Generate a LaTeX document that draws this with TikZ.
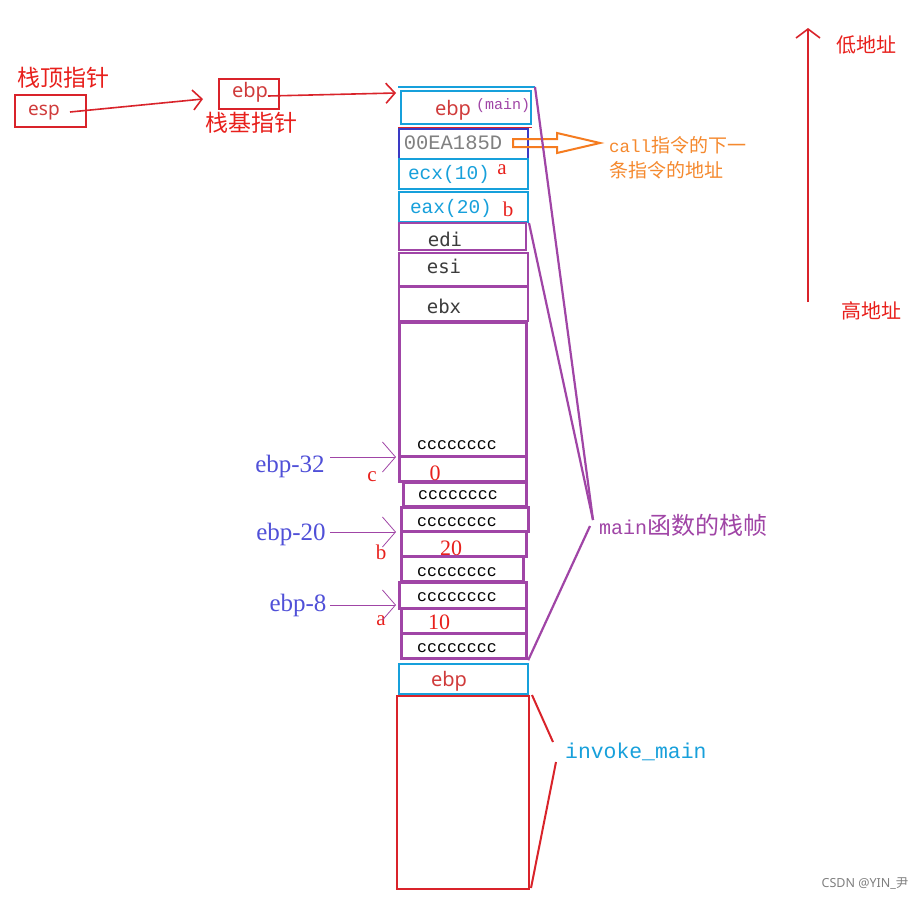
\documentclass[tikz,border=0pt]{standalone}
\usepackage{fontspec}
\setmainfont{Liberation Serif}
\setsansfont{Noto Sans}
\setmonofont{Liberation Mono}
\newfontfamily\cjk{Noto Sans CJK SC}
\newfontfamily\dmono{DejaVu Sans Mono}
\usetikzlibrary{arrows.meta}
\definecolor{myred}{HTML}{D9232A}
\definecolor{txtred}{HTML}{E8201C}
\definecolor{ebpred}{HTML}{D03B3B}
\definecolor{mypurple}{HTML}{A045A6}
\definecolor{mycyan}{HTML}{17A0DB}
\definecolor{mydblue}{HTML}{3A3AC4}
\definecolor{myblue}{HTML}{5050D8}
\definecolor{myorange}{HTML}{F57C20}
\definecolor{txtorange}{HTML}{F5892E}
\definecolor{darktxt}{HTML}{3C3C3C}
\tikzset{
  box/.style={rectangle, draw, inner sep=0pt, anchor=north west},
  redbox/.style={box, draw=myred, line width=2pt},
  cybox/.style={box, draw=mycyan, line width=2pt},
  pbox/.style={box, draw=mypurple, line width=2pt},
  pthick/.style={box, draw=mypurple, line width=3.2pt},
  cjklbl/.style={font=\cjk\fontsize{23}{23}\selectfont, text=txtred, inner sep=0pt},
  regtxt/.style={font=\sffamily\fontsize{19}{19}\selectfont, inner sep=0pt, anchor=base},
  monotxt/.style={font=\ttfamily\fontsize{19.5}{19.5}\selectfont, inner sep=0pt},
  ctxt/.style={font=\ttfamily\fontsize{16.6}{16.6}\selectfont, inner sep=0pt, text=black},
  dtxt/.style={font=\dmono\fontsize{19}{19}\selectfont, inner sep=0pt, text=darktxt},
  numtxt/.style={font=\rmfamily\fontsize{22}{22}\selectfont, text=txtred, inner sep=0pt},
  lettxt/.style={font=\rmfamily\fontsize{21}{21}\selectfont, text=txtred, inner sep=0pt},
  offtxt/.style={font=\rmfamily\fontsize{25}{25}\selectfont, text=myblue, inner sep=0pt},
  redarrow/.style={draw=myred, line width=1.6pt, -{Straight Barb[length=9pt,width=20pt,line width=1.6pt]}},
  parrow/.style={draw=mypurple, line width=0.8pt, -{Straight Barb[length=13pt,width=30pt,line width=0.8pt]}},
  plink/.style={draw=mypurple, line width=2.2pt},
  rlink/.style={draw=myred, line width=2pt},
}
\begin{document}
\begin{tikzpicture}[x=1pt,y=-1pt]
\useasboundingbox[fill=white] (0,0) rectangle (923,900);

% pointers
\node[cjklbl] (sptxt) at (63,78) {栈顶指针};
\node[redbox, minimum width=71pt, minimum height=32pt] (esp) at (14,94) {};
\node[regtxt, text=ebpred] (esptxt) at (44,115) {esp};
\node[redbox, minimum width=60pt, minimum height=30pt] (ebp) at (218,78) {};
\node[regtxt, text=ebpred, font=\sffamily\fontsize{20}{20}\selectfont] (ebptxt) at (250,97) {ebp};
\node[cjklbl] (bptxt) at (251,123) {栈基指针};
\coordinate (espend) at (70,112);
\coordinate (espto) at (203,99);
\draw[redarrow] (espend) -- (espto);
\coordinate (ebpend) at (268,96);
\coordinate (ebpto) at (396,93);
\draw[redarrow] (ebpend) -- (ebpto);

% top of stack
\coordinate (topl) at (398,87);
\coordinate (topr) at (535,87);
\draw[mycyan, line width=2pt] (topl) -- (topr);
\node[cybox, minimum width=130pt, minimum height=33pt] (bmain) at (400,90) {};
\node[regtxt, text=ebpred, font=\sffamily\fontsize{20}{20}\selectfont] (bmaint) at (453,115) {ebp};
\node[font=\ttfamily\fontsize{15}{15}\selectfont, text=mypurple, inner sep=0pt] (bmainm) at (503,106) {(main)};
\coordinate (rl1) at (398,127);
\coordinate (rl2) at (532,127);
\draw[myred, line width=1pt] (rl1) -- (rl2);
\node[box, draw=mydblue, line width=2pt, minimum width=129pt, minimum height=30pt] (ret) at (398,128) {};
\node[monotxt, text=gray, font=\ttfamily\fontsize{20.5}{20.5}\selectfont] (rett) at (453,143) {00EA185D};
% hollow orange arrow
\draw[myorange, line width=2pt, line join=miter] (513,139) -- (557,139) -- (557,133) -- (600,143) -- (557,153) -- (557,147) -- (513,147) -- cycle;
\node[font=\ttfamily\fontsize{17.5}{17.5}\selectfont, text=txtorange, inner sep=0pt, anchor=west] (callt) at (609,145) {call{\cjk\fontsize{19}{19}\selectfont 指令的下一}};
\node[font=\cjk\fontsize{19}{19}\selectfont, text=txtorange, inner sep=0pt, anchor=west] (callt2) at (609,170) {条指令的地址};

\node[cybox, minimum width=129pt, minimum height=30pt] (ecx) at (398,158) {};
\node[monotxt, text=mycyan] (ecxt) at (449,174) {ecx(10)};
\node[lettxt] (ecxa) at (502,170) {a};
\node[cybox, minimum width=129pt, minimum height=30pt] (eax) at (398,191) {};
\node[monotxt, text=mycyan] (eaxt) at (451,208) {eax(20)};
\node[lettxt] (eaxb) at (508,209) {b};

\node[pbox, minimum width=127pt, minimum height=27pt] (edi) at (398,222) {};
\node[dtxt] (edit) at (445,239) {edi};
\node[pbox, minimum width=129pt, minimum height=33pt] (esi) at (398,252) {};
\node[dtxt] (esit) at (444,266) {esi};
\node[pbox, minimum width=129pt, minimum height=34pt] (ebx) at (398,286) {};
\node[dtxt] (ebxt) at (444,306) {ebx};

% locals
\node[pthick, minimum width=127pt, minimum height=134pt] (big) at (398,321) {};
\node[ctxt] (bigt) at (457,445) {cccccccc};
\node[pthick, minimum width=127pt, minimum height=25pt] (c0) at (398,455) {};
\node[numtxt] (c0t) at (435,473) {0};
\node[pthick, minimum width=123pt, minimum height=24pt] (s1) at (402,481) {};
\node[ctxt] (s1t) at (458,495) {cccccccc};
\node[pthick, minimum width=127pt, minimum height=24pt] (s2) at (400,506) {};
\node[ctxt] (s2t) at (457,522) {cccccccc};
\node[pthick, minimum width=125pt, minimum height=25pt] (s20) at (400,530) {};
\node[numtxt] (s20t) at (451,548) {20};
\node[pthick, minimum width=122pt, minimum height=25pt] (s3) at (400,555) {};
\node[ctxt] (s3t) at (457,572) {cccccccc};
\node[pthick, minimum width=127pt, minimum height=26pt] (s4) at (398,581) {};
\node[ctxt] (s4t) at (457,597) {cccccccc};
\node[pthick, minimum width=125pt, minimum height=25pt] (s10) at (400,607) {};
\node[numtxt] (s10t) at (439,622) {10};
\node[pthick, minimum width=125pt, minimum height=25pt] (s5) at (400,632) {};
\node[ctxt] (s5t) at (457,648) {cccccccc};

% ebp offsets
\node[offtxt] (o32) at (290,466) {ebp-32};
\node[lettxt] (lc) at (372,477) {c};
\coordinate (o32a) at (330,457);
\coordinate (o32b) at (396,457);
\draw[parrow] (o32a) -- (o32b);
\node[offtxt] (o20) at (291,534) {ebp-20};
\node[lettxt] (lb) at (381,552) {b};
\coordinate (o20a) at (330,532);
\coordinate (o20b) at (396,532);
\draw[parrow] (o20a) -- (o20b);
\node[offtxt] (o8) at (298,605) {ebp-8};
\node[lettxt] (la) at (381,621) {a};
\coordinate (o8a) at (330,605);
\coordinate (o8b) at (396,605);
\draw[parrow] (o8a) -- (o8b);

% main frame brace lines
\coordinate (fr) at (593,520);
\coordinate (fr2) at (590,526);
\draw[plink] (topr) -- (fr);
\draw[plink] (eax.south east) -- (fr);
\draw[plink] (s5.south east) -- (fr2);
\node[font=\ttfamily\fontsize{20}{20}\selectfont, text=mypurple, inner sep=0pt, anchor=west] (mft) at (599,525) {main{\cjk\fontsize{24}{24}\selectfont 函数的栈帧}};

% invoke_main
\node[cybox, minimum width=129pt, minimum height=30pt] (ebp2) at (398,663) {};
\node[regtxt, text=ebpred, font=\sffamily\fontsize{20}{20}\selectfont] (ebp2t) at (449,686) {ebp};
\node[redbox, minimum width=132pt, minimum height=193pt] (inv) at (396,695) {};
\coordinate (i1) at (532,695);
\coordinate (i2) at (553,742);
\coordinate (i3) at (556,762);
\coordinate (i4) at (531,888);
\draw[rlink] (i1) -- (i2);
\draw[rlink] (i3) -- (i4);
\node[font=\ttfamily\fontsize{21.4}{21.4}\selectfont, text=mycyan, inner sep=0pt, anchor=west] (invt) at (565,752) {invoke\_main};

% address direction
\coordinate (ahi) at (808,302);
\coordinate (alo) at (808,28);
\draw[draw=myred, line width=1.6pt, -{Straight Barb[length=9pt,width=24pt,line width=1.6pt]}] (ahi) -- (alo);
\node[cjklbl, font=\cjk\fontsize{20}{20}\selectfont] (low) at (866,45) {低地址};
\node[cjklbl, font=\cjk\fontsize{20}{20}\selectfont] (high) at (871,311) {高地址};

% watermark
\node[font=\sffamily\fontsize{12.5}{12.5}\selectfont, text=gray, inner sep=0pt] (wm) at (865,884) {CSDN @YIN\_{\cjk 尹}};
\end{tikzpicture}
\end{document}
